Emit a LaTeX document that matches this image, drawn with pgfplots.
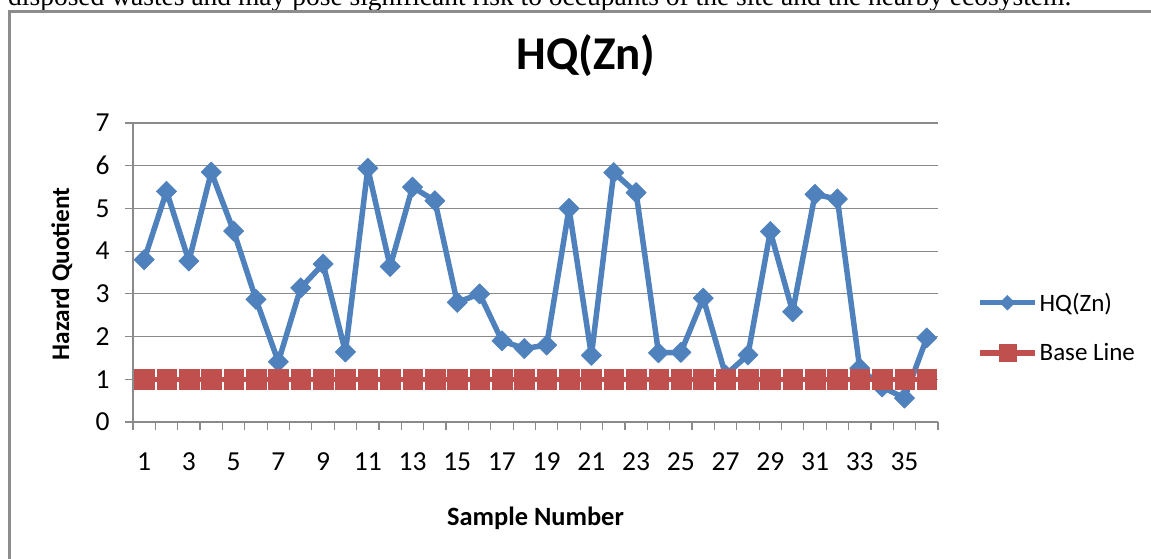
\documentclass[border=0pt]{standalone}
\usepackage{fontspec}
\setmainfont{Carlito}
\newfontfamily\timesfont{Liberation Serif}
\usepackage{pgfplots}
\pgfplotsset{compat=1.18}
\definecolor{hqblue}{HTML}{4F81BD}
\definecolor{hqred}{HTML}{C0504D}
\definecolor{gridgray}{HTML}{8A8A8A}
\definecolor{framegray}{HTML}{8C8C8C}
\begin{document}
\begin{tikzpicture}
\useasboundingbox (0pt,0pt) rectangle (1151pt,-558pt);
\clip (0pt,0pt) rectangle (1151pt,-558pt);
\node[anchor=base west, inner sep=0pt, font=\timesfont\fontsize{27.5}{31}\selectfont] at (8pt,-5pt) {disposed wastes and may pose significant risk to occupants of the site and the nearby ecosystem.};
\draw[framegray, line width=2.5pt] (9.5pt,-600pt) -- (9.5pt,-11.5pt) -- (1200pt,-11.5pt);
\begin{axis}[
  at={(133pt,-422pt)}, anchor=south west,
  scale only axis, width=805pt, height=299pt,
  xmin=0.5, xmax=36.5, ymin=0, ymax=7,
  axis x line*=bottom, axis y line*=left,
  axis line style={gridgray, line width=1.2pt, -},
  tick align=outside, major tick length=8pt,
  tick style={gridgray, line width=1.2pt},
  xtick={0.5,1.5,...,36.5},
  xticklabels={1,,3,,5,,7,,9,,11,,13,,15,,17,,19,,21,,23,,25,,27,,29,,31,,33,,35,,},
  xticklabel style={xshift=11.18pt, anchor=base, yshift=-40pt},
  ytick={0,1,...,7},
  yticklabel style={anchor=east, xshift=-12pt},
  /pgf/number format/assume math mode=true,
  ymajorgrids, grid style={gridgray, line width=1.2pt},
  tick label style={font=\fontsize{27.5}{32}\selectfont},
  title={\textbf{HQ(Zn)}},
  title style={at={(0.5627,1.1605)}, anchor=base, font=\fontsize{47}{54}\selectfont},
  xlabel={\textbf{Sample Number}},
  xlabel style={at={(0.5,-0.3445)}, anchor=base, font=\fontsize{26.4}{31}\selectfont},
  ylabel={\textbf{Hazard Quotient}},
  ylabel style={at={(-0.0795,0.495)}, anchor=base, rotate=0, font=\fontsize{25.3}{30}\selectfont},
  legend image code/.code={\draw[mark repeat=2,mark phase=2,#1] plot coordinates {(0pt,0pt) (27.5pt,0pt) (55pt,0pt)};},
  legend style={at={(1.0484,0.316)}, anchor=west, draw=none, fill=none, inner sep=0pt, row sep=27pt,
    font=\fontsize{25}{29}\selectfont, nodes={inner sep=2pt}},
  legend cell align=left,
]
\addplot[forget plot, hqblue, line width=5.5pt, line join=round, mark=square*, mark size=7.2pt,
  mark options={rotate=45, solid, fill=hqblue, draw=hqblue, line width=0.5pt}] coordinates {
(1,3.8) (2,5.4) (3,3.77) (4,5.85) (5,4.47) (6,2.87) (7,1.41) (8,3.14) (9,3.7) (10,1.64)
(11,5.94) (12,3.64) (13,5.5) (14,5.18) (15,2.8) (16,3.0) (17,1.9) (18,1.72) (19,1.8) (20,5.0)
(21,1.56) (22,5.84) (23,5.37) (24,1.62) (25,1.63) (26,2.9) (27,1.1) (28,1.57) (29,4.46) (30,2.58)
(31,5.33) (32,5.22) (33,1.26) (34,0.82) (35,0.56) (36,1.97)
};
\addplot[forget plot, hqred, line width=5.5pt, mark=square*, mark size=9.8pt,
  mark options={solid, fill=hqred, draw=hqred, line width=0.3pt}] coordinates {
(1,1) (2,1) (3,1) (4,1) (5,1) (6,1) (7,1) (8,1) (9,1) (10,1)
(11,1) (12,1) (13,1) (14,1) (15,1) (16,1) (17,1) (18,1) (19,1) (20,1)
(21,1) (22,1) (23,1) (24,1) (25,1) (26,1) (27,1) (28,1) (29,1) (30,1)
(31,1) (32,1) (33,1) (34,1) (35,1) (36,1)
};
\addlegendimage{hqblue, line width=5.5pt, mark=square*, mark size=5.3pt, mark options={rotate=45, solid, fill=hqblue, draw=hqblue, line width=0.3pt}}
\addlegendentry{HQ(Zn)}
\addlegendimage{hqred, line width=5.5pt, mark=square*, mark size=8.5pt, mark options={solid, fill=hqred, draw=hqred, line width=0.3pt}}
\addlegendentry{Base Line}
\end{axis}
\end{tikzpicture}
\end{document}
